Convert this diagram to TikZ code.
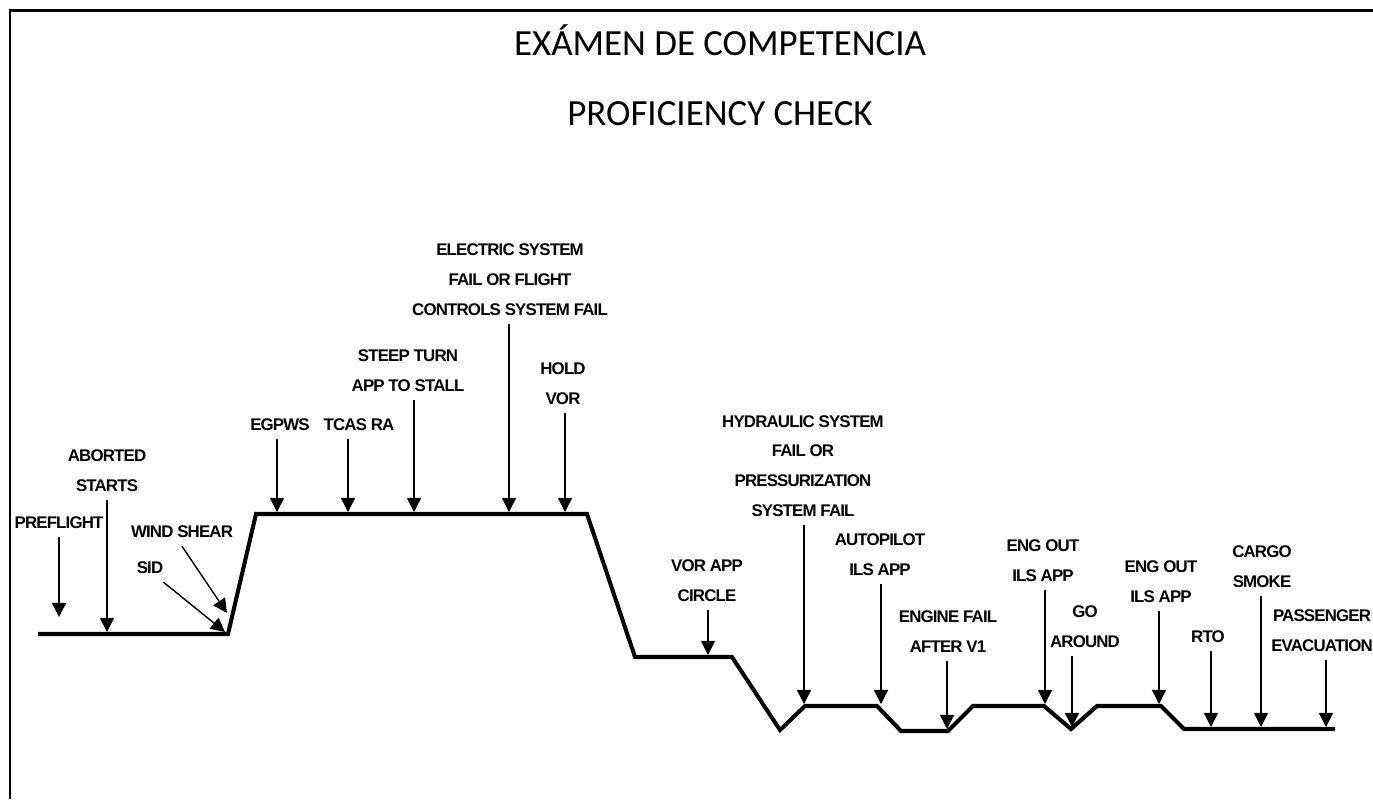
\documentclass[tikz,border=0pt]{standalone}
\usepackage{fontspec}
\setmainfont{Liberation Sans}
\newfontfamily\titlefont{Carlito}
\newfontfamily\lblfont[LetterSpace=-5]{Liberation Sans}
\usetikzlibrary{arrows.meta}

\tikzset{
  lbl/.style={font=\lblfont\bfseries\fontsize{9.6}{17}\selectfont, align=center, inner xsep=0pt, inner ysep=4.5pt},
  evt/.style={line width=0.8pt, -{Triangle[width=8pt,length=8pt]}},
  profile/.style={line width=2.3pt, line join=miter},
  ttl/.style={font=\titlefont\fontsize{21}{25}\selectfont, anchor=base}
}

\begin{document}
\begin{tikzpicture}[x=0.02cm,y=-0.02cm]
\useasboundingbox (0,0) rectangle (1373,799);

% frame
\draw[line width=1.7pt] (10,799) -- (10,10) -- (1373,10);

% title
\node[ttl] (ttl1) at (720,55) {EXÁMEN DE COMPETENCIA};
\node[ttl] (ttl2) at (720,125) {PROFICIENCY CHECK};

% flight profile
\draw[profile] (38,634) -- (228,634) -- (256,514) -- (587,514) -- (635,657)
  -- (732,657) -- (780,730) -- (805,706) -- (877,706) -- (901,731)
  -- (948,731) -- (973,706) -- (1044,706) -- (1071,729) -- (1097,706)
  -- (1161,706) -- (1184,729) -- (1335,729);

% arrow tips on the profile
\coordinate (t-pre) at (59,617);
\coordinate (t-abort) at (107,632);
\coordinate (t-wind) at (227,613);
\coordinate (t-sid) at (225,632);
\coordinate (t-egpws) at (277,512);
\coordinate (t-tcas) at (348,512);
\coordinate (t-steep) at (414,512);
\coordinate (t-elec) at (509,512);
\coordinate (t-hold) at (565,512);
\coordinate (t-vorapp) at (708,655);
\coordinate (t-hyd) at (804,704);
\coordinate (t-auto) at (881,704);
\coordinate (t-engfail) at (947,729);
\coordinate (t-engout1) at (1045,704);
\coordinate (t-goar) at (1072,727);
\coordinate (t-engout2) at (1159,704);
\coordinate (t-rto) at (1211,727);
\coordinate (t-cargo) at (1261,727);
\coordinate (t-pax) at (1326,727);

% events
\node[lbl] (pre) at (59,523) {PREFLIGHT};
\node[lbl] (abort) at (107,471) {ABORTED\\STARTS};
\node[lbl] (wind) at (182,532) {WIND SHEAR};
\node[lbl] (sid) at (150,568) {SID};
\node[lbl] (egpws) at (280,425) {EGPWS};
\node[lbl] (tcas) at (359,425) {TCAS RA};
\node[lbl] (steep) at (408,371) {STEEP TURN\\APP TO STALL};
\node[lbl] (elec) at (510,280) {ELECTRIC SYSTEM\\FAIL OR FLIGHT\\CONTROLS SYSTEM FAIL};
\node[lbl] (hold) at (563,384) {HOLD\\VOR};
\node[lbl] (vorapp) at (707,581) {VOR APP\\CIRCLE};
\node[lbl] (hyd) at (803,466) {HYDRAULIC SYSTEM\\FAIL OR\\PRESSURIZATION\\SYSTEM FAIL};
\node[lbl] (auto) at (880,555) {AUTOPILOT\\ILS APP};
\node[lbl] (engfail) at (948,632) {ENGINE FAIL\\AFTER V1};
\node[lbl] (engout1) at (1043,561) {ENG OUT\\ILS APP};
\node[lbl] (goar) at (1085,627) {GO\\AROUND};
\node[lbl] (engout2) at (1161,582) {ENG OUT\\ILS APP};
\node[lbl] (rto) at (1208,637) {RTO};
\node[lbl] (cargo) at (1262,567) {CARGO\\SMOKE};
\node[lbl] (pax) at (1322,631) {PASSENGER\\EVACUATION};

% arrows
\draw[evt] (pre.south) -- (t-pre);
\draw[evt] (wind.south) -- (t-wind);
\draw[evt] (sid.south east) -- (t-sid);
\foreach \n in {abort,egpws,tcas,steep,elec,hold,vorapp,hyd,auto,engfail,engout1,goar,engout2,rto,cargo,pax}
  \draw[evt] (\n.south -| t-\n) -- (t-\n);

\end{tikzpicture}
\end{document}
